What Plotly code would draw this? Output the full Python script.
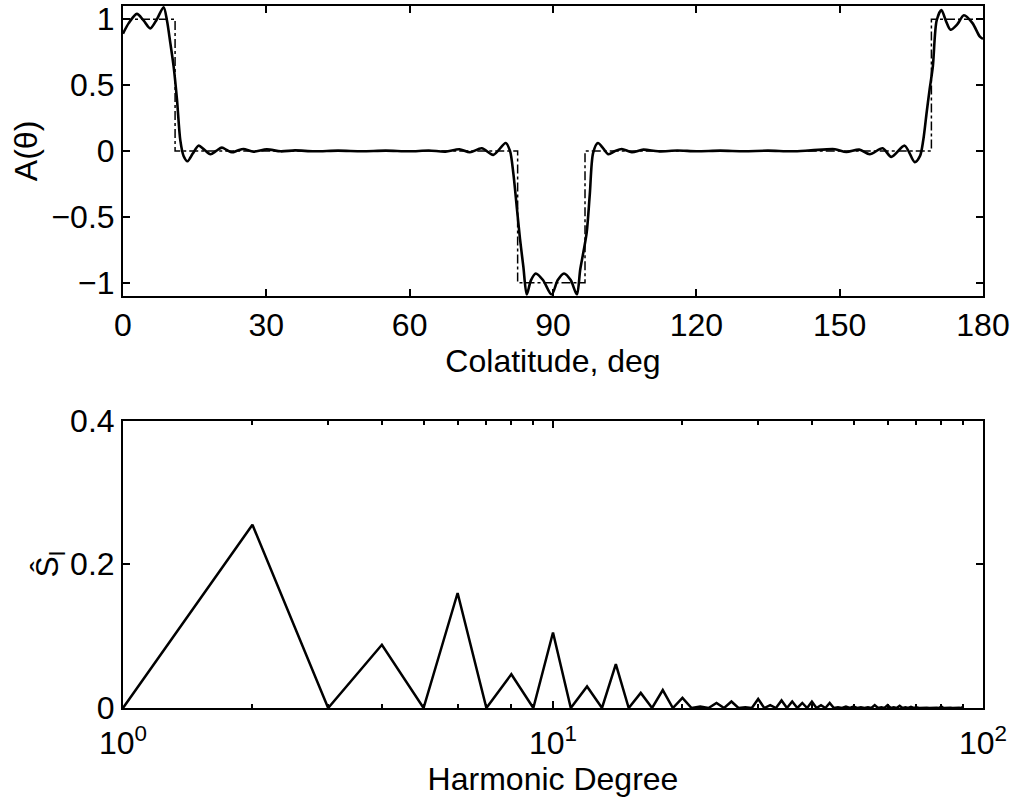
import plotly.graph_objects as go

# ---- Top panel: A(theta) ----
theta_fit = [0, 1.2, 2.9, 4.3, 5.7, 7.1, 8.5, 9.2, 9.9, 10.6, 11.3, 12.0, 12.7, 13.5,
             14.6, 15.8, 17.0, 18.3, 19.5, 20.7, 21.8, 22.8, 24.0, 25.2, 27.3, 30.1,
             33.0, 36.0, 40.0, 45.0, 50.0, 55.0, 60.0, 64.0, 67.5, 70.4, 72.6, 75.1,
             77.5, 80.1, 81.0, 81.7, 82.4, 83.1, 83.8, 84.5, 85.4, 86.4, 87.9, 89.7,
             91.0, 92.3, 93.7, 95.0, 95.7, 96.4, 97.05, 97.7, 98.4, 99.4, 100.5, 101.6,
             103.0, 104.4, 106.5, 108.9, 112.0, 116.0, 120.0, 125.0, 130.0, 135.0,
             140.0, 144.0, 149.0, 151.4, 154.1, 156.3, 159.0, 160.8, 163.6, 165.7,
             166.8, 167.5, 168.2, 168.8, 169.5, 170.3, 171.3, 172.2, 173.2, 174.6,
             176.0, 177.8, 179.3, 180]
A_fit = [0.89, 0.97, 1.04, 0.99, 0.93, 1.00, 1.09, 0.99, 0.82, 0.64, 0.39, 0.08, -0.04,
         -0.078, -0.02, 0.04, 0.01, -0.025, 0.0, 0.025, 0.005, -0.01, 0.003, 0.015,
         -0.005, 0.012, -0.003, 0.004, -0.003, 0.002, -0.002, 0.002, -0.003, 0.003,
         -0.005, 0.013, -0.01, 0.02, -0.03, 0.06, 0.0, -0.17, -0.42, -0.67, -0.88,
         -1.09, -0.98, -0.93, -0.98, -1.09, -0.98, -0.93, -0.98, -1.09, -0.9, -0.76,
         -0.62, -0.33, -0.015, 0.06, 0.02, -0.025, 0.0, 0.015, -0.01, 0.01, -0.003,
         0.003, -0.002, 0.002, -0.002, 0.002, -0.003, 0.004, 0.013, -0.008, 0.01,
         -0.025, 0.02, -0.045, 0.04, -0.085, -0.04, 0.083, 0.29, 0.46, 0.64, 0.99,
         1.07, 0.99, 0.92, 0.96, 1.03, 0.97, 0.87, 0.85]

theta_ideal = [0, 10.9, 10.9, 82.6, 82.6, 96.7, 96.7, 169.2, 169.2, 180]
A_ideal = [1, 1, 0, 0, -1, -1, 0, 0, 1, 1]

# ---- Bottom panel: spectrum ----
degree = list(range(1, 91))
S_hat = [0, 0.255, 0, 0.088, 0, 0.16, 0, 0.047, 0, 0.105,
         0, 0.030, 0, 0.061, 0, 0.021, 0, 0.025, 0, 0.014,
         0, 0.002, 0, 0.007, 0, 0.009, 0, 0.001, 0, 0.0125,
         0, 0.004, 0, 0.0105, 0, 0.009, 0, 0.007, 0, 0.009,
         0, 0.004, 0, 0.007, 0, 0.001, 0, 0.002, 0, 0.002,
         0, 0.001, 0, 0.001, 0, 0.004, 0, 0.001, 0, 0.004,
         0, 0.001, 0, 0.003, 0, 0.001, 0, 0.0015, 0, 0.001,
         0, 0.0005, 0, 0.0005, 0, 0.0005, 0, 0.0005, 0, 0.002,
         0, 0.0005, 0, 0.0005, 0, 0.0005, 0, 0.0005, 0, 0.002]

top_xticks = [0, 30, 60, 90, 120, 150, 180]
top_yticks = [-1, -0.5, 0, 0.5, 1]
bot_yticks = [0, 0.2, 0.4]
bot_xticks = [1, 10, 100]
bot_xticktext = ["10<sup>0</sup>", "10<sup>1</sup>", "10<sup>2</sup>"]
bot_minor = [2, 3, 4, 5, 6, 7, 8, 9, 20, 30, 40, 50, 60, 70, 80, 90]

FONT = "Liberation Sans, Arial, sans-serif"
FS = 32

fig = go.Figure()
fig.add_trace(go.Scatter(x=theta_ideal, y=A_ideal, mode="lines",
                         line=dict(color="black", width=1.5, dash="dashdot"),
                         xaxis="x", yaxis="y", showlegend=False))
fig.add_trace(go.Scatter(x=theta_fit, y=A_fit, mode="lines",
                         line=dict(color="black", width=2.6, shape="spline", smoothing=0.8),
                         xaxis="x", yaxis="y", showlegend=False))
fig.add_trace(go.Scatter(x=degree, y=S_hat, mode="lines",
                         line=dict(color="black", width=2.5),
                         xaxis="x2", yaxis="y2", showlegend=False))

axis_common = dict(showline=True, linecolor="black", linewidth=2, mirror="ticks",
                   ticks="inside", tickcolor="black", tickwidth=2, ticklen=7,
                   showgrid=False, zeroline=False, automargin=False,
                   tickfont=dict(family=FONT, size=FS, color="black"))

fig.update_layout(
    width=1017, height=805,
    margin=dict(l=123, r=34, t=6, b=97, autoexpand=False),
    paper_bgcolor="white", plot_bgcolor="white",
    font=dict(family=FONT, size=FS, color="black"),
    xaxis=dict(domain=[0, 1], anchor="y", range=[0, 180],
               tickvals=top_xticks,
               title=dict(text="Colatitude, deg", font=dict(size=FS), standoff=0),
               **axis_common),
    yaxis=dict(domain=[0.5871, 1], anchor="x", range=[-1.1, 1.1],
               tickvals=top_yticks,
               title=dict(text="A(θ)", font=dict(size=FS), standoff=4),
               **axis_common),
    xaxis2=dict(domain=[0, 1], anchor="y2", type="log", range=[0, 2],
                tickvals=bot_xticks, ticktext=bot_xticktext, ticklabelstandoff=6,
                minor=dict(tickvals=bot_minor, ticks="inside", ticklen=4,
                           tickcolor="black", tickwidth=2),
                title=dict(text="Harmonic Degree", font=dict(size=FS), standoff=0),
                **axis_common),
    yaxis2=dict(domain=[0, 0.4095], anchor="x2", range=[0, 0.4],
                tickvals=bot_yticks, ticktext=["0", "0.2", "0.4"],
                title=dict(text="Ŝ<sub>l</sub>", font=dict(size=FS), standoff=2),
                **axis_common),
)

fig.write_html("out.html")
